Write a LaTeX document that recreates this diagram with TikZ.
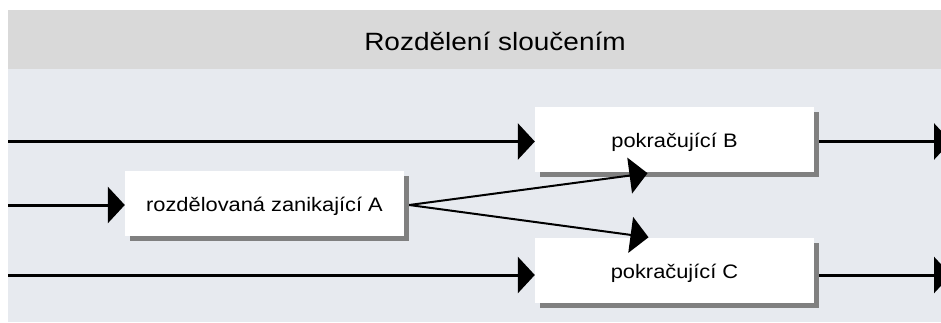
\documentclass[tikz,border=0pt]{standalone}
\usepackage{fontspec}
\setmainfont{Liberation Sans}[FakeStretch=1.12]
\usetikzlibrary{arrows.meta,shadows,calc}
\definecolor{headgray}{HTML}{D9D9D9}
\definecolor{bodybg}{HTML}{E7EAEF}
\definecolor{shadowgray}{HTML}{808080}
\tikzset{
  box/.style={fill=white, draw=none, minimum width=279pt, minimum height=65pt, inner sep=0pt,
    text height=16pt, text depth=0pt, font=\fontsize{19.5}{23}\selectfont,
    drop shadow={shadow xshift=5pt, shadow yshift=-5pt, fill=shadowgray, opacity=1}},
  flow/.style={line width=3pt, -{Triangle[length=17pt,width=36pt]}},
  split/.style={line width=2pt, -{Triangle[length=18pt,width=36pt]}},
  titletext/.style={font=\fontsize{25}{30}\selectfont, inner sep=0pt, anchor=base}
}
\begin{document}
\begin{tikzpicture}[x=1pt,y=-1pt]
\useasboundingbox (0,0) rectangle (941,322);
\clip (0,0) rectangle (941,322);
\fill[white] (0,0) rectangle (941,322);
\fill[headgray] (8,10) rectangle (941,69);
\fill[bodybg] (8,69) rectangle (941,322);
\node[titletext] (title) at (495,50.5) {Rozdělení sloučením};

\node[box] (A) at (264.5,203.5) {rozdělovaná zanikající A};
\node[box] (B) at (674.5,139) {pokračující B};
\node[box] (C) at (674.5,270) {pokračující C};

\coordinate (inB) at (8,141.5);
\coordinate (inA) at (8,205);
\coordinate (inC) at (8,275);
\coordinate (outB) at (951,141.5);
\coordinate (outC) at (951,275);
\coordinate (Bsh) at ($(B.east)+(5,0)$);
\coordinate (Csh) at ($(C.east)+(5,0)$);
\coordinate (Ash) at ($(A.east)+(5,1.5)$);
\coordinate (tipB) at ($(B.south)+(-27,1.5)$);
\coordinate (tipC) at ($(C.north)+(-26,0)$);

\draw[flow] (inB) -- (inB -| B.west);
\draw[flow] (inA) -- (inA -| A.west);
\draw[flow] (inC) -- (inC -| C.west);
\draw[flow] (Bsh |- outB) -- (outB);
\draw[flow] (Csh |- outC) -- (outC);
\draw[split] (Ash) -- (tipB);
\draw[split] (Ash) -- (tipC);
\end{tikzpicture}
\end{document}
